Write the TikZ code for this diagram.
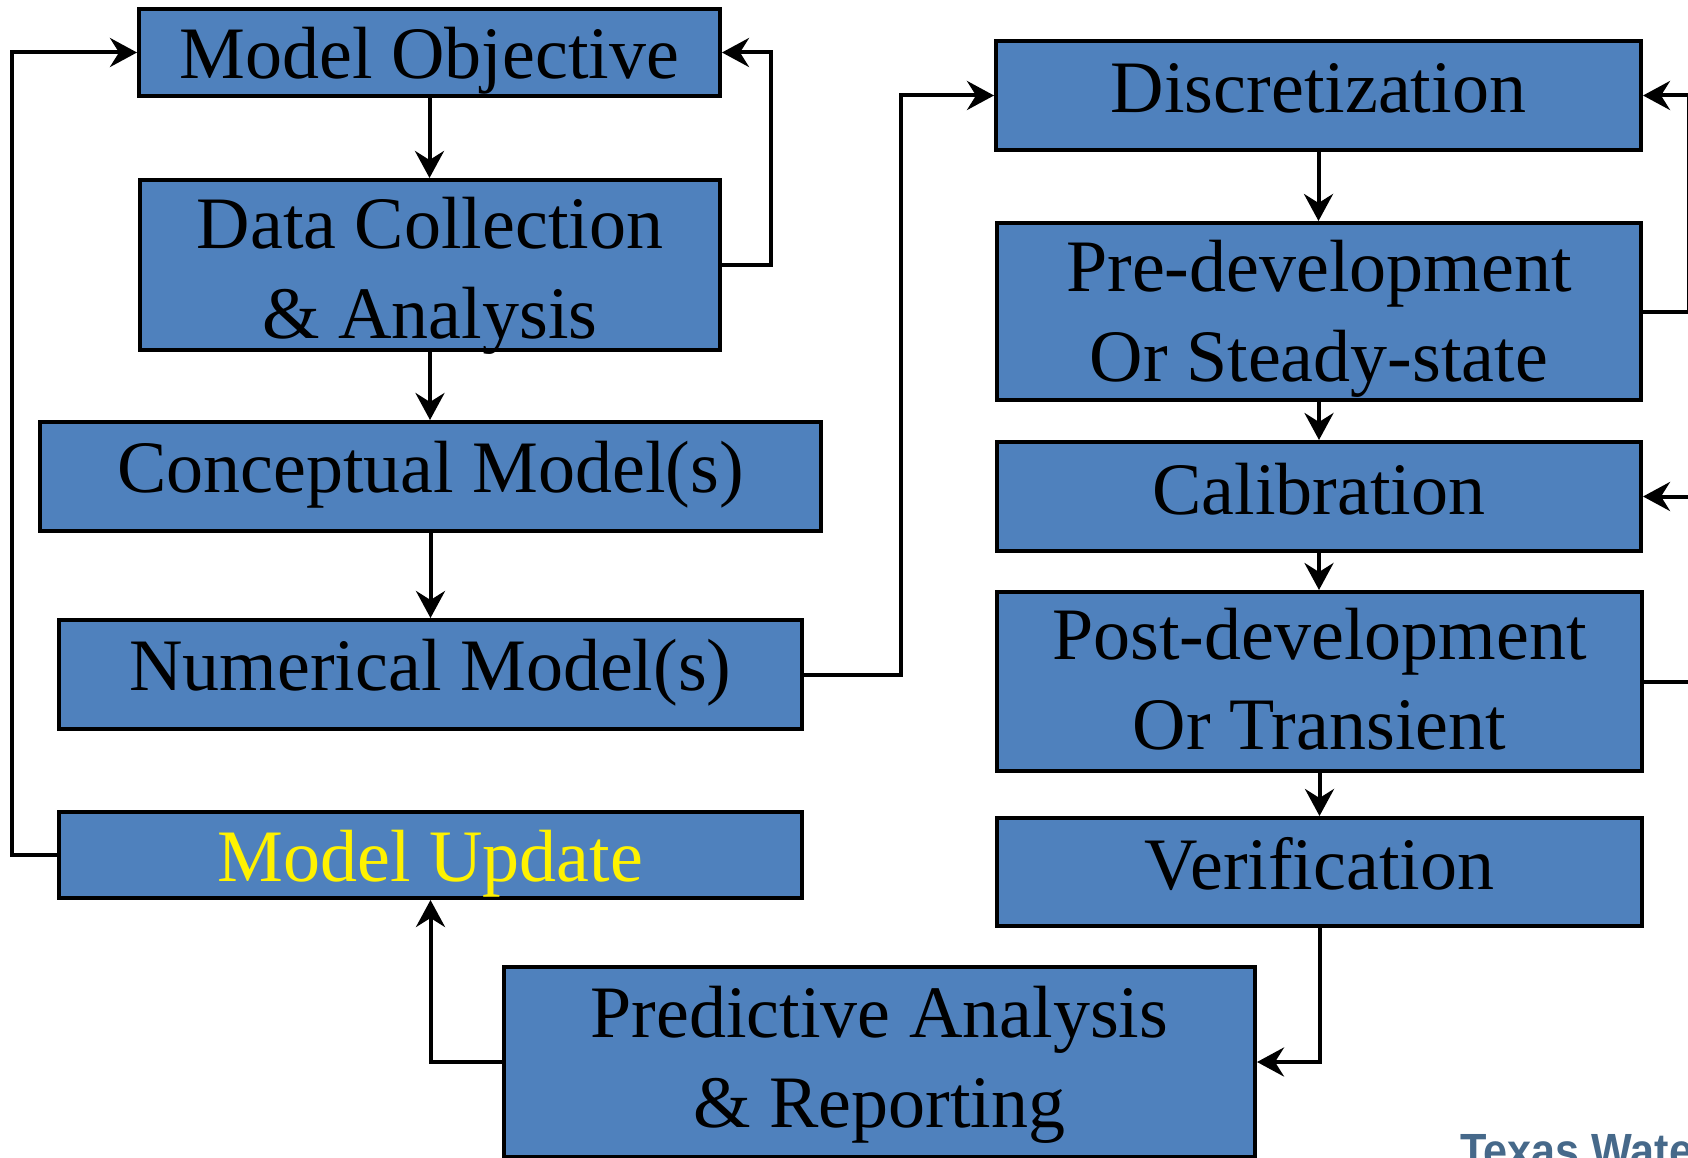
\documentclass[tikz,border=0pt]{standalone}
\usepackage{fontspec}
\setmainfont{Liberation Serif}
\newfontfamily\logofont{Liberation Sans}
\usetikzlibrary{arrows.meta}
\definecolor{boxblue}{HTML}{4F81BD}
\definecolor{logoblue}{HTML}{46698A}
\tikzset{
  flowbox/.style={draw=black, fill=boxblue, line width=4pt, inner sep=0pt,
    align=center, font=\fontsize{74}{90}\selectfont, text=black},
  arr/.style={draw=black, line width=4pt,
    -{Stealth[length=27pt, width=29pt, inset=9pt]}},
}
\begin{document}
\begin{tikzpicture}[x=1pt, y=-1pt]
\useasboundingbox (0,0) rectangle (1688,1158);
% left column
\node[flowbox, minimum width=581, minimum height=87, text height=52pt, text depth=0pt] (mo) at (429.5,52.5) {Model Objective};
\node[flowbox, minimum width=580, minimum height=170, text height=146pt, text depth=0pt] (dc) at (430,265) {Data Collection\\\& Analysis};
\node[flowbox, minimum width=781, minimum height=109, text height=50pt, text depth=18pt] (cm) at (430.5,476.5) {Conceptual Model(s)};
\node[flowbox, minimum width=743, minimum height=109, text height=50pt, text depth=18pt] (nm) at (430.5,674.5) {Numerical Model(s)};
\node[flowbox, minimum width=743, minimum height=86, text height=52pt, text depth=0pt, text=yellow] (mu) at (430.5,855) {Model Update};
% right column
\node[flowbox, minimum width=645, minimum height=109, text height=50pt, text depth=15pt] (di) at (1318.5,95.5) {Discretization};
\node[flowbox, minimum width=644, minimum height=177, text height=140pt, text depth=0pt] (pd) at (1319,311.5) {Pre-development\\Or Steady-state};
\node[flowbox, minimum width=644, minimum height=109, text height=50pt, text depth=15pt] (ca) at (1319,496.5) {Calibration};
\node[flowbox, minimum width=645, minimum height=179, text height=135pt, text depth=0pt] (po) at (1319.5,681.5) {Post-development\\Or Transient};
\node[flowbox, minimum width=645, minimum height=108, text height=50pt, text depth=15pt] (ve) at (1319.5,872) {Verification};
% bottom
\node[flowbox, minimum width=751, minimum height=190, text height=130pt, text depth=0pt] (pr) at (879.5,1062) {Predictive Analysis\\\& Reporting};
% logo (cut by the lower edge, as in the reference)
\node[anchor=base west, inner sep=0pt, text=logoblue, font=\logofont\bfseries\fontsize{48}{50}\selectfont] (logo) at (1460,1167) {\scalebox{0.9}[1]{Texas Water}};
% connectors left
\draw[arr] (mo.south) -- (mo.south |- dc.north);
\draw[arr] (dc.south) -- (dc.south |- cm.north);
\draw[arr] (cm.south) -- (cm.south |- nm.north);
\draw[arr] (dc.east) -- ++(49,0) |- (mo.east);
\draw[arr] (mu.west) -- ++(-45,0) |- (mo.west);
\draw[arr] (nm.east) -- ++(97,0) |- (di.west);
% connectors right
\draw[arr] (di.south) -- (di.south |- pd.north);
\draw[arr] (pd.south) -- (pd.south |- ca.north);
\draw[arr] (ca.south) -- (ca.south |- po.north);
\draw[arr] (po.south) -- (po.south |- ve.north);
\draw[arr] (pd.east) -- ++(46,0) |- (di.east);
\draw[arr] (po.east) -- ++(46,0) |- (ca.east);
% bottom connectors
\draw[arr] (ve.south) |- (pr.east);
\draw[arr] (pr.west) -| (mu.south);
\end{tikzpicture}
\end{document}
